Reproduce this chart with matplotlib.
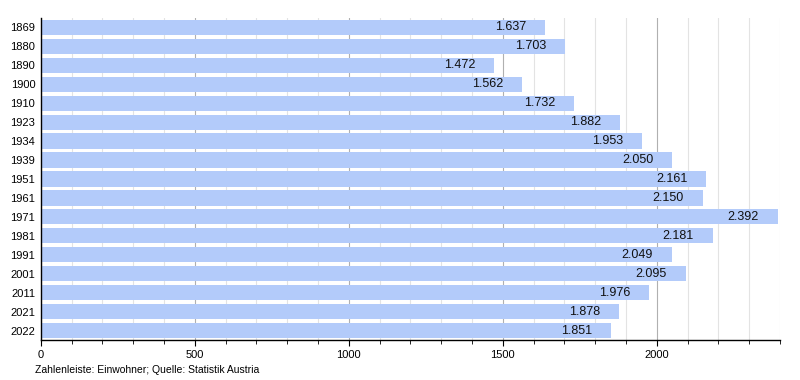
import matplotlib
matplotlib.use("Agg")
import matplotlib.pyplot as plt
from matplotlib.ticker import MultipleLocator

plt.rcParams['font.family'] = ['Liberation Sans', 'DejaVu Sans']

years = ["1869", "1880", "1890", "1900", "1910", "1923", "1934", "1939", "1951",
         "1961", "1971", "1981", "1991", "2001", "2011", "2021", "2022"]
population = [1637, 1703, 1472, 1562, 1732, 1882, 1953, 2050, 2161,
              2150, 2392, 2181, 2049, 2095, 1976, 1878, 1851]
caption = "Zahlenleiste: Einwohner; Quelle: Statistik Austria"


def de_thousands(v):
    return f"{v:,}".replace(",", ".")


fig = plt.figure(figsize=(8, 3.8), dpi=100)
ax = fig.add_axes([0.051, 0.105, 0.924, 0.848])

pos = list(range(len(years)))
ax.barh(pos, population, height=0.8, color="#b3cbfa", zorder=2)
for p, v in zip(pos, population):
    ax.annotate(de_thousands(v), xy=(v, p), xytext=(-19, 0), textcoords="offset pixels",
                ha="right", va="center", fontsize=9, color="#111111", zorder=3)

ax.set_xlim(0, 2400)
ax.set_ylim(len(years) - 0.5, -0.5)
ax.set_yticks(pos)
ax.set_yticklabels(years, fontsize=8)
ax.tick_params(axis="y", length=0, pad=4)

ax.xaxis.set_major_locator(MultipleLocator(500))
ax.xaxis.set_minor_locator(MultipleLocator(100))
ax.tick_params(axis="x", which="major", length=4, labelsize=8, pad=3)
ax.tick_params(axis="x", which="minor", length=3)
ax.grid(axis="x", which="major", color="#b0b0b0", linewidth=0.8, zorder=0)
ax.grid(axis="x", which="minor", color="#e3e3e3", linewidth=0.8, zorder=0)

for s in ["top", "right"]:
    ax.spines[s].set_visible(False)
ax.spines["left"].set_linewidth(1.0)
ax.spines["bottom"].set_linewidth(1.0)

fig.text(0.044, 0.027, caption, fontsize=7.5, ha="left", va="center")

fig.savefig("out.png", dpi=100)
